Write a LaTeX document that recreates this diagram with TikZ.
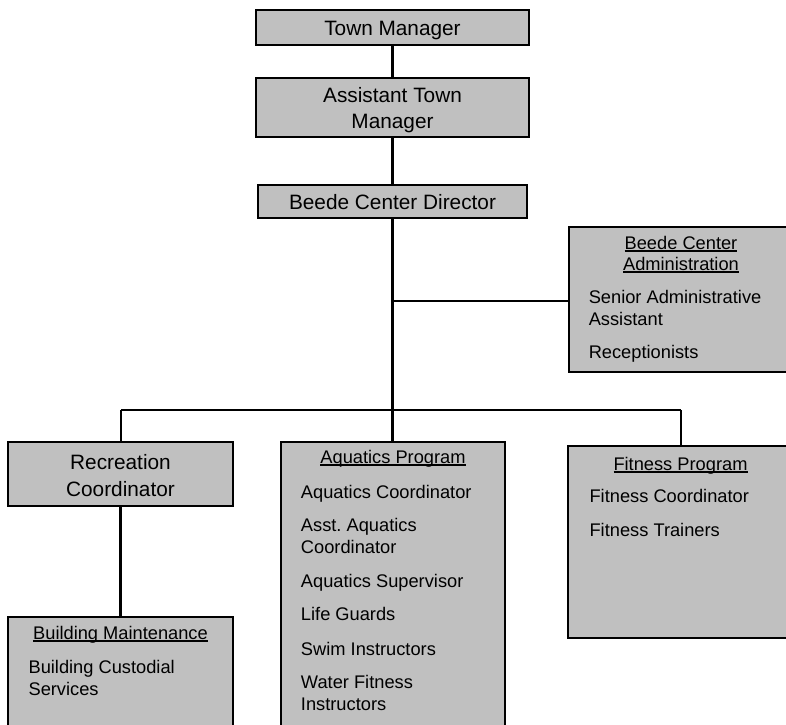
\documentclass[tikz,border=0pt]{standalone}
\usepackage{fontspec}
\setmainfont{Liberation Sans}
\usetikzlibrary{fit}
\frenchspacing

% underline placed just below the baseline, crossing descenders
\newcommand\uln[1]{\setbox0\hbox{#1}\rlap{\rule[-0.14em]{\wd0}{0.075em}}\box0}

\begin{document}
\begin{tikzpicture}[x=0.75pt,y=-0.75pt,
  box/.style={draw=black,fill=boxgray,line width=2.2pt,inner sep=0pt},
  conn/.style={draw=black,line width=1.6pt},
  big/.style={inner sep=0pt,anchor=base,font=\fontsize{15.6}{18.75}\selectfont},
  head/.style={inner sep=0pt,anchor=base,font=\fontsize{13.7}{16.3}\selectfont},
  item/.style={inner sep=0pt,anchor=base west,font=\fontsize{13.7}{16.3}\selectfont}]
\definecolor{boxgray}{RGB}{192,192,192}
\useasboundingbox (0,0) rectangle (786,725);
\clip (0,0) rectangle (786,725);

% boxes
\node[box,fit={(256,10) (529,45)}] (tm) {};
\node[box,fit={(256,78) (529,137)}] (atm) {};
\node[box,fit={(258,185) (527,218)}] (bcd) {};
\node[box,fit={(569,227) (794,372)}] (adm) {};
\node[box,fit={(8,442) (233,506)}] (rec) {};
\node[box,fit={(281,442) (505,745)}] (aq) {};
\node[box,fit={(568,446) (793,638)}] (fit) {};
\node[box,fit={(8,617) (233,745)}] (bm) {};

% junction points
\coordinate (ja) at (392.5,301);
\coordinate (jl) at (121,410);
\coordinate (jm) at (392.5,410);
\coordinate (jr) at (681,410);

% connectors
\draw[conn] (tm.south) -- (atm.north);
\draw[conn] (atm.south) -- (bcd.north);
\draw[conn] (bcd.south) -- (jm);
\draw[conn] (ja) -- (ja -| adm.west);
\draw[conn] (jl) -- (jr);
\draw[conn] (jl) -- (jl |- rec.north);
\draw[conn] (jm) -- (jm |- aq.north);
\draw[conn] (jr) -- (jr |- fit.north);
\draw[conn] (rec.south) -- (bm.north);

% top chain
\node[big] (tmt) at (392.5,35) {Town Manager};
\node[big] (atm1) at (392.5,102.5) {Assistant Town};
\node[big] (atm2) at (392.5,128) {Manager};
\node[big] (bcdt) at (392.5,209) {Beede Center Director};

% administration
\node[head] (adh1) at (681,249.3) {\uln{Beede Center}};
\node[head] (adh2) at (681,270) {\uln{Administration}};
\node[item] (ad1) at (588.5,303.3) {Senior Administrative};
\node[item] (ad2) at (588.5,325) {Assistant};
\node[item] (ad3) at (588.5,358.3) {Receptionists};

% recreation
\node[big] (rec1) at (120.5,469) {Recreation};
\node[big] (rec2) at (120.5,496) {Coordinator};

% aquatics
\node[head] (aqh) at (393,463.3) {\uln{Aquatics Program}};
\node[item] (aq1) at (300.7,498.3) {Aquatics Coordinator};
\node[item] (aq2) at (300.7,531.7) {Asst. Aquatics};
\node[item] (aq3) at (300.7,553.3) {Coordinator};
\node[item] (aq4) at (300.7,587.3) {Aquatics Supervisor};
\node[item] (aq5) at (300.7,620.7) {Life Guards};
\node[item] (aq6) at (300.7,655) {Swim Instructors};
\node[item] (aq7) at (300.7,688.3) {Water Fitness};
\node[item] (aq8) at (300.7,710) {Instructors};

% fitness
\node[head] (fih) at (680.5,470) {\uln{Fitness Program}};
\node[item] (fi1) at (589.3,502.3) {Fitness Coordinator};
\node[item] (fi2) at (589.3,536) {Fitness Trainers};

% building maintenance
\node[head] (bmh) at (120.5,639.3) {\uln{Building Maintenance}};
\node[item] (bm1) at (28.3,673.3) {Building Custodial};
\node[item] (bm2) at (28.3,695) {Services};
\end{tikzpicture}
\end{document}
